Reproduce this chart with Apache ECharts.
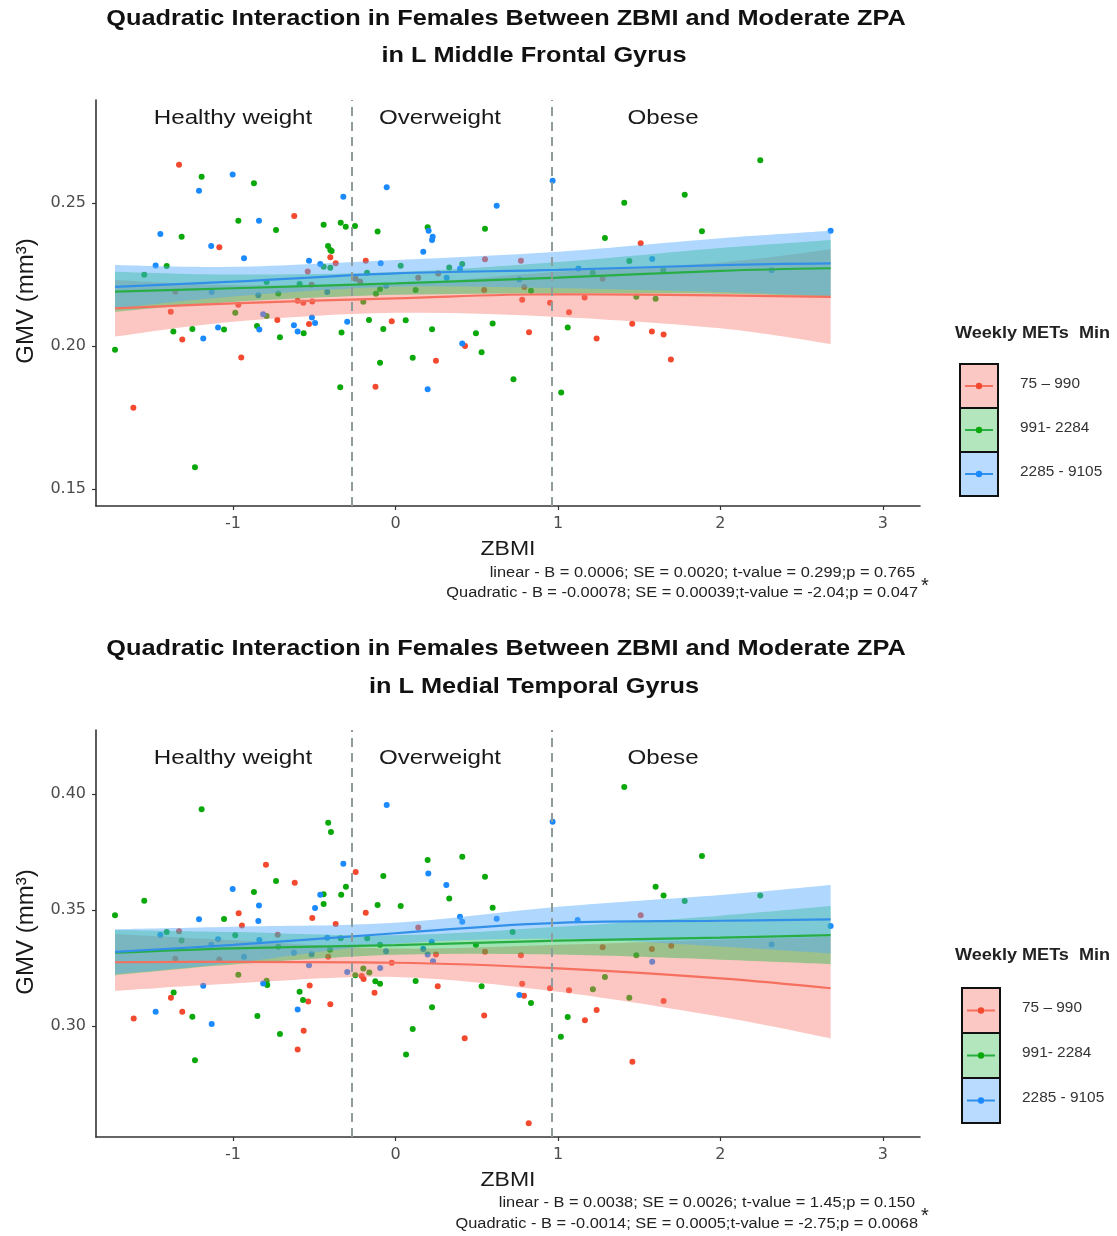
<!DOCTYPE html>
<html>
<head>
<meta charset="utf-8">
<title>Quadratic Interaction in Females Between ZBMI and Moderate ZPA</title>
<script src="https://cdn.jsdelivr.net/npm/echarts@6/dist/echarts.min.js"></script>
<style>
  html, body { margin: 0; padding: 0; background: #ffffff; }
  #chart { width: 1117px; height: 1236px; }
</style>
</head>
<body>
<div id="chart"></div>
<script>
// ---------- shared axis values ----------
const xTickValues = [-1, 0, 1, 2, 3];
const mfgYTicks = [0.15, 0.20, 0.25];
const mtgYTicks = [0.30, 0.35, 0.40];
// ZBMI cut-offs between weight classes
const zbmiCutoffs = [-0.274, 0.957];
const weightClasses = ['Healthy weight', 'Overweight', 'Obese'];
const groupNames = ['75 – 990', '991- 2284', '2285 - 9105'];

// ---------- L Middle Frontal Gyrus: [ZBMI, GMV] ----------
const mfgLow = [[-1.332,0.2634],[-0.623,0.2455],[-1.084,0.2345],[-0.401,0.2310],[-0.368,0.2289],[-0.540,0.2261],[-0.183,0.2298],[-0.245,0.2235],[-0.217,0.2225],[-0.516,0.2214],[-1.355,0.2190],[-0.602,0.2158],[-0.567,0.2151],[-0.512,0.2156],[-0.967,0.2144],[-1.383,0.2120],[-0.727,0.2091],[-0.532,0.2077],[-1.312,0.2023],[-0.949,0.1960],[-1.613,0.1784],[-0.123,0.1858],[-0.023,0.2087],[0.249,0.1949],[0.140,0.2239],[0.263,0.2254],[0.551,0.2303],[0.772,0.2298],[0.546,0.2196],[0.793,0.2206],[0.780,0.2162],[0.951,0.2151],[1.164,0.2170],[0.428,0.2000],[0.822,0.2048],[1.068,0.2118],[1.238,0.2026],[1.275,0.2235],[1.509,0.2359],[1.457,0.2078],[1.578,0.2051],[1.650,0.2040],[1.695,0.1953]];
const mfgMid = [[-1.193,0.2592],[-0.871,0.2569],[-0.967,0.2438],[-0.442,0.2424],[-0.337,0.2431],[-0.306,0.2417],[-0.249,0.2420],[-0.735,0.2406],[-1.316,0.2382],[-0.415,0.2350],[-0.401,0.2336],[-0.393,0.2332],[-0.442,0.2277],[-0.401,0.2274],[-1.408,0.2280],[-1.546,0.2249],[-0.175,0.2256],[-0.793,0.2224],[-0.590,0.2217],[-0.721,0.2184],[-0.198,0.2155],[-0.986,0.2116],[-0.793,0.2105],[-0.163,0.2091],[-0.852,0.2070],[-1.055,0.2058],[-1.250,0.2060],[-1.367,0.2051],[-0.565,0.2045],[-0.332,0.2047],[-0.711,0.2031],[-1.726,0.1987],[-1.234,0.1576],[-0.340,0.1856],[-0.110,0.2400],[0.198,0.2415],[0.551,0.2410],[1.289,0.2378],[0.032,0.2281],[0.331,0.2275],[0.411,0.2287],[1.214,0.2256],[-0.095,0.2199],[-0.120,0.2183],[0.124,0.2196],[0.834,0.2193],[0.063,0.2090],[-0.075,0.2060],[0.225,0.2059],[0.598,0.2079],[1.060,0.2065],[0.495,0.2045],[0.530,0.1978],[-0.095,0.1942],[0.106,0.1959],[0.726,0.1884],[1.020,0.1838],[2.245,0.2649],[1.780,0.2529],[1.408,0.2501],[1.886,0.2401],[1.439,0.2297],[1.648,0.2265],[1.482,0.2172],[1.601,0.2165]];
const mfgHigh = [[-1.002,0.2600],[-1.209,0.2543],[-0.321,0.2522],[-0.840,0.2438],[-1.447,0.2392],[-1.134,0.2350],[-0.932,0.2307],[-0.532,0.2298],[-0.463,0.2287],[-1.476,0.2282],[-1.131,0.2189],[-0.420,0.2189],[-0.844,0.2178],[-0.814,0.2111],[-0.514,0.2100],[-0.495,0.2081],[-0.297,0.2085],[-0.625,0.2073],[-0.838,0.2058],[-1.092,0.2065],[-0.602,0.2051],[-1.183,0.2026],[-0.054,0.2555],[0.623,0.2490],[0.967,0.2578],[0.204,0.2403],[0.229,0.2382],[0.225,0.2371],[0.171,0.2330],[-0.091,0.2289],[0.397,0.2270],[1.126,0.2271],[0.315,0.2239],[0.762,0.2233],[-0.058,0.2211],[0.411,0.2009],[0.198,0.1849],[1.580,0.2304],[2.315,0.2265],[2.678,0.2403]];

// fitted quadratic curves with 95% bands, read at these ZBMI values
const fitX = [-1.726, -1, 0, 1, 2, 2.678];
const mfgLowFit   = [0.2132, 0.2149, 0.2167, 0.2181, 0.2177, 0.2172];
const mfgLowUpper = [0.2231, 0.2213, 0.2218, 0.2260, 0.2292, 0.2338];
const mfgLowLower = [0.2033, 0.2085, 0.2116, 0.2102, 0.2062, 0.2007];
const mfgMidFit   = [0.2190, 0.2202, 0.2219, 0.2239, 0.2263, 0.2272];
const mfgMidUpper = [0.2260, 0.2250, 0.2259, 0.2294, 0.2343, 0.2371];
const mfgMidLower = [0.2120, 0.2154, 0.2179, 0.2184, 0.2183, 0.2172];
const mfgHighFit   = [0.2207, 0.2225, 0.2254, 0.2266, 0.2283, 0.2289];
const mfgHighUpper = [0.2283, 0.2277, 0.2301, 0.2330, 0.2377, 0.2403];
const mfgHighLower = [0.2131, 0.2173, 0.2207, 0.2202, 0.2189, 0.2175];

// ---------- L Medial Temporal Gyrus: [ZBMI, GMV] ----------
const mtgLow = [[-0.797,0.3695],[-0.245,0.3664],[-0.620,0.3618],[-0.183,0.3488],[-0.965,0.3486],[-0.512,0.3466],[-0.945,0.3434],[-0.368,0.3440],[-1.332,0.3409],[-0.725,0.3394],[-0.414,0.3299],[-1.355,0.3290],[-1.084,0.3287],[-0.208,0.3216],[-0.196,0.3203],[-0.129,0.3144],[-0.528,0.3175],[-1.382,0.3122],[-0.537,0.3106],[-0.401,0.3094],[-1.312,0.3062],[-1.611,0.3033],[-0.565,0.2980],[-0.602,0.2899],[0.140,0.3425],[0.551,0.3320],[1.275,0.3340],[0.249,0.3309],[0.772,0.3305],[-0.023,0.3273],[0.260,0.3172],[0.780,0.3182],[0.951,0.3163],[1.068,0.3154],[0.791,0.3131],[0.546,0.3046],[1.166,0.3025],[1.238,0.3069],[0.426,0.2948],[0.820,0.2581],[1.509,0.3478],[1.578,0.3332],[1.697,0.3346],[1.650,0.3108],[1.458,0.2846]];
const mtgMid = [[-1.193,0.3935],[-0.414,0.3876],[-0.397,0.3836],[-0.735,0.3625],[-0.305,0.3600],[-0.871,0.3578],[-0.442,0.3568],[-0.334,0.3566],[-1.546,0.3540],[-0.442,0.3526],[-1.726,0.3478],[-1.055,0.3461],[-1.408,0.3405],[-0.986,0.3391],[-1.316,0.3369],[-0.337,0.3379],[-0.174,0.3379],[-0.721,0.3342],[-0.403,0.3329],[-0.247,0.3219],[-0.198,0.3248],[-0.161,0.3231],[-0.967,0.3221],[-0.793,0.3195],[-0.789,0.3177],[-1.365,0.3145],[-0.590,0.3148],[-0.569,0.3112],[-1.250,0.3040],[-0.850,0.3043],[-0.711,0.2966],[-1.234,0.2853],[0.198,0.3716],[0.411,0.3730],[-0.075,0.3647],[0.551,0.3644],[0.331,0.3550],[-0.110,0.3522],[0.032,0.3517],[0.598,0.3510],[0.721,0.3406],[-0.095,0.3350],[0.495,0.3350],[-0.124,0.3193],[-0.095,0.3182],[0.124,0.3194],[0.530,0.3172],[1.289,0.3212],[1.215,0.3159],[0.834,0.3100],[0.225,0.3081],[1.060,0.3039],[0.106,0.2987],[1.018,0.2954],[0.065,0.2878],[1.408,0.4030],[1.886,0.3733],[1.601,0.3600],[1.650,0.3563],[1.780,0.3539],[2.245,0.3563],[1.482,0.3305],[1.439,0.3122]];
const mtgHigh = [[-0.321,0.3700],[-1.002,0.3591],[-0.463,0.3566],[-0.840,0.3520],[-0.495,0.3509],[-1.209,0.3460],[-0.844,0.3453],[-1.447,0.3392],[-1.092,0.3374],[-1.134,0.3350],[-0.838,0.3371],[-0.420,0.3381],[-0.625,0.3316],[-0.516,0.3310],[-0.932,0.3299],[-0.532,0.3262],[-0.297,0.3233],[-1.183,0.3174],[-0.814,0.3184],[-0.602,0.3072],[-1.476,0.3062],[-1.131,0.3009],[-0.054,0.3953],[0.967,0.3881],[0.202,0.3658],[0.313,0.3608],[0.397,0.3471],[0.411,0.3450],[0.623,0.3463],[1.121,0.3457],[0.223,0.3363],[-0.058,0.3323],[0.171,0.3332],[0.198,0.3309],[0.231,0.3279],[-0.094,0.3250],[0.762,0.3134],[2.678,0.3431],[2.315,0.3352],[1.580,0.3277]];

const mtgLowFit   = [0.3275, 0.3277, 0.3273, 0.3249, 0.3206, 0.3163];
const mtgLowUpper = [0.3397, 0.3370, 0.3334, 0.3350, 0.3372, 0.3385];
const mtgLowLower = [0.3152, 0.3184, 0.3212, 0.3148, 0.3040, 0.2947];
const mtgMidFit   = [0.3316, 0.3335, 0.3349, 0.3368, 0.3381, 0.3392];
const mtgMidUpper = [0.3414, 0.3405, 0.3391, 0.3428, 0.3476, 0.3517];
const mtgMidLower = [0.3219, 0.3265, 0.3307, 0.3308, 0.3286, 0.3267];
const mtgHighFit   = [0.3320, 0.3350, 0.3400, 0.3445, 0.3454, 0.3460];
const mtgHighUpper = [0.3417, 0.3428, 0.3445, 0.3514, 0.3565, 0.3608];
const mtgHighLower = [0.3224, 0.3272, 0.3355, 0.3376, 0.3343, 0.3313];

// ---------- styling ----------
const FONT = "'Liberation Sans', Arial, sans-serif";
const TICK_FONT = "'DejaVu Sans', 'Liberation Sans', sans-serif";
const pointColors = ['#F2492F', '#0BA80B', '#1B8AFF'];
const lineColors  = ['#F6705F', '#28AE45', '#3390E8'];
const bandColors  = ['rgba(248,118,109,0.42)', 'rgba(0,186,56,0.38)', 'rgba(80,168,255,0.45)'];
const legendFills = ['#FCC8C3', '#B3E6BC', '#B8DBFF'];

const chart = echarts.init(document.getElementById('chart'), null, { renderer: 'canvas' });

// smooth path through pixel points (Catmull-Rom converted to cubic Bezier)
function curveThrough(pts) {
  let d = '';
  for (let i = 0; i < pts.length - 1; i++) {
    const p0 = pts[i - 1] || pts[i], p1 = pts[i], p2 = pts[i + 1], p3 = pts[i + 2] || p2;
    const c1 = [p1[0] + (p2[0] - p0[0]) / 6, p1[1] + (p2[1] - p0[1]) / 6];
    const c2 = [p2[0] - (p3[0] - p1[0]) / 6, p2[1] - (p3[1] - p1[1]) / 6];
    d += ' C' + c1[0] + ',' + c1[1] + ' ' + c2[0] + ',' + c2[1] + ' ' + p2[0] + ',' + p2[1];
  }
  return d;
}

function bandSeries(idx, xs, upper, lower, color) {
  return {
    type: 'custom', xAxisIndex: idx, yAxisIndex: idx, silent: true, clip: true, z: 3,
    data: [[xs[0], upper[0]]],
    renderItem: function (params, api) {
      const up = xs.map((x, i) => api.coord([x, upper[i]]));
      const lo = xs.map((x, i) => api.coord([x, lower[i]])).reverse();
      const d = 'M' + up[0][0] + ',' + up[0][1] + curveThrough(up) +
                ' L' + lo[0][0] + ',' + lo[0][1] + curveThrough(lo) + ' Z';
      return { type: 'path', shape: { pathData: d }, style: { fill: color, stroke: null } };
    }
  };
}

function panelSeries(idx, groups, fits, bands) {
  const s = [];
  groups.forEach((g, k) => s.push({
    type: 'scatter', name: groupNames[k], xAxisIndex: idx, yAxisIndex: idx, z: 2,
    symbolSize: 6, itemStyle: { color: pointColors[k], opacity: 1 }, data: g
  }));
  bands.forEach((b, k) => s.push(bandSeries(idx, fitX, b[0], b[1], bandColors[k])));
  fits.forEach((f, k) => s.push({
    type: 'line', xAxisIndex: idx, yAxisIndex: idx, z: 4, smooth: 0.4, symbol: 'none', silent: true,
    lineStyle: { color: lineColors[k], width: 2.2 },
    data: fitX.map((x, i) => [x, f[i]])
  }));
  s.push({
    type: 'line', xAxisIndex: idx, yAxisIndex: idx, data: [], z: 5,
    markLine: {
      silent: true, symbol: 'none', label: { show: false },
      lineStyle: { color: '#8E9C9C', width: 2, type: [9, 6] },
      data: zbmiCutoffs.map(v => ({ xAxis: v }))
    }
  });
  return s;
}

function xAxisFor(idx) {
  return {
    type: 'value', gridIndex: idx, min: -1.843, max: 3.228,
    splitLine: { show: false },
    axisLine: { show: true, onZero: false, lineStyle: { color: '#333', width: 1.6 } },
    axisTick: { show: true, length: 4, customValues: xTickValues, lineStyle: { color: '#333', width: 1.2 } },
    axisLabel: { customValues: xTickValues, color: '#4D4D4D', fontSize: 16, fontFamily: TICK_FONT, margin: 10 }
  };
}
function yAxisFor(idx, min, max, ticks) {
  return {
    type: 'value', gridIndex: idx, min: min, max: max,
    splitLine: { show: false },
    axisLine: { show: true, onZero: false, lineStyle: { color: '#333', width: 1.6 } },
    axisTick: { show: true, length: 4, customValues: ticks, lineStyle: { color: '#333', width: 1.2 } },
    axisLabel: { customValues: ticks, color: '#4D4D4D', fontSize: 16, fontFamily: TICK_FONT, margin: 10,
                 formatter: v => v.toFixed(2) }
  };
}

// ---------- text and legend graphics ----------
function txt(text, x, y, size, opts) {
  opts = opts || {};
  return {
    type: 'text', x: x, y: y, scaleX: opts.sx || 1, scaleY: opts.sy || 1, rotation: opts.rot || 0, z: 20,
    style: {
      text: text, fill: opts.color || '#1A1A1A',
      font: (opts.bold ? 'bold ' : '') + size + 'px ' + FONT,
      align: opts.align || 'center', verticalAlign: 'middle',
      textAlign: opts.align || 'center', textVerticalAlign: 'middle'
    }
  };
}

function legendBlock(x0, yTitle, yTop, cellH, labelX) {
  const els = [txt('Weekly METs  Min', 955, yTitle, 16, { bold: true, align: 'left', sx: 1.13, color: '#222' })];
  for (let k = 0; k < 3; k++) {
    const y = yTop + k * cellH;
    els.push({ type: 'rect', z: 20, shape: { x: x0, y: y, width: 38, height: cellH },
               style: { fill: legendFills[k], stroke: '#111', lineWidth: 2 } });
    els.push({ type: 'line', z: 21, shape: { x1: x0 + 5, y1: y + cellH / 2, x2: x0 + 33, y2: y + cellH / 2 },
               style: { stroke: lineColors[k], lineWidth: 2 } });
    els.push({ type: 'circle', z: 22, shape: { cx: x0 + 19, cy: y + cellH / 2, r: 3.2 },
               style: { fill: pointColors[k] } });
    els.push(txt(groupNames[k], labelX, y + cellH / 2 - 2, 14, { align: 'left', sx: 1.1, color: '#333' }));
  }
  return els;
}

const graphics = [
  // upper panel
  txt('Quadratic Interaction in Females Between ZBMI and Moderate ZPA', 506, 19, 22, { bold: true, sx: 1.15, color: '#111' }),
  txt('in L Middle Frontal Gyrus', 534, 56, 22, { bold: true, sx: 1.15, color: '#111' }),
  txt(weightClasses[0], 233, 118, 21, { sx: 1.15 }),
  txt(weightClasses[1], 440, 118, 21, { sx: 1.15 }),
  txt(weightClasses[2], 663, 118, 21, { sx: 1.15 }),
  txt('GMV (mm³)', 26, 301, 24, { rot: Math.PI / 2 }),
  txt('ZBMI', 508, 549, 20, { sx: 1.15 }),
  txt('linear - B = 0.0006; SE = 0.0020; t-value = 0.299;p = 0.765', 915, 573, 14, { align: 'right', sx: 1.17, color: '#222' }),
  txt('Quadratic - B = -0.00078; SE = 0.00039;t-value = -2.04;p = 0.047', 918, 593, 14, { align: 'right', sx: 1.17, color: '#222' }),
  txt('*', 925, 586, 20, { color: '#222' }),
  // lower panel
  txt('Quadratic Interaction in Females Between ZBMI and Moderate ZPA', 506, 649, 22, { bold: true, sx: 1.15, color: '#111' }),
  txt('in L Medial Temporal Gyrus', 534, 687, 22, { bold: true, sx: 1.15, color: '#111' }),
  txt(weightClasses[0], 233, 758, 21, { sx: 1.15 }),
  txt(weightClasses[1], 440, 758, 21, { sx: 1.15 }),
  txt(weightClasses[2], 663, 758, 21, { sx: 1.15 }),
  txt('GMV (mm³)', 26, 932, 24, { rot: Math.PI / 2 }),
  txt('ZBMI', 508, 1180, 20, { sx: 1.15 }),
  txt('linear - B = 0.0038; SE = 0.0026; t-value = 1.45;p = 0.150', 915, 1203, 14, { align: 'right', sx: 1.17, color: '#222' }),
  txt('Quadratic - B = -0.0014; SE = 0.0005;t-value = -2.75;p = 0.0068', 918, 1224, 14, { align: 'right', sx: 1.17, color: '#222' }),
  txt('*', 925, 1216, 20, { color: '#222' })
].concat(legendBlock(960, 334, 364, 44, 1020), legendBlock(962, 956, 988, 45, 1022));

const option = {
  backgroundColor: '#ffffff',
  animation: false,
  textStyle: { fontFamily: FONT },
  grid: [
    { left: 96, top: 100, width: 824, height: 406, outerBoundsMode: 'none', containLabel: false },
    { left: 96, top: 730, width: 824, height: 407, outerBoundsMode: 'none', containLabel: false }
  ],
  xAxis: [xAxisFor(0), xAxisFor(1)],
  yAxis: [yAxisFor(0, 0.1441, 0.2860, mfgYTicks), yAxisFor(1, 0.2522, 0.4276, mtgYTicks)],
  series: [].concat(
    panelSeries(0, [mfgLow, mfgMid, mfgHigh],
      [mfgLowFit, mfgMidFit, mfgHighFit],
      [[mfgLowUpper, mfgLowLower], [mfgMidUpper, mfgMidLower], [mfgHighUpper, mfgHighLower]]),
    panelSeries(1, [mtgLow, mtgMid, mtgHigh],
      [mtgLowFit, mtgMidFit, mtgHighFit],
      [[mtgLowUpper, mtgLowLower], [mtgMidUpper, mtgMidLower], [mtgHighUpper, mtgHighLower]])
  ),
  graphic: graphics
};
chart.setOption(option);
</script>
</body>
</html>
